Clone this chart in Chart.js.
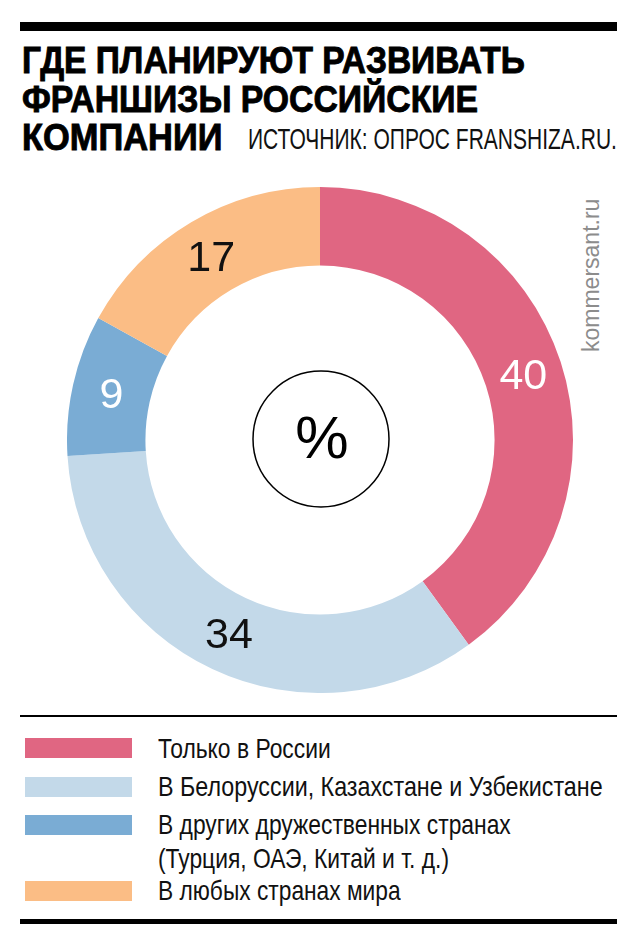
<!DOCTYPE html>
<html>
<head>
<meta charset="utf-8">
<script src="https://cdn.jsdelivr.net/npm/chart.js@4"></script>
<style>
body{margin:0;background:#fff;}
#page{position:relative;width:640px;height:946px;overflow:hidden;background:#fff;font-family:"Liberation Sans",Arial,sans-serif;color:#111;}
.txt{position:absolute;white-space:nowrap;display:inline-block;transform-origin:0 0;line-height:1;}
.title{font-size:37px;font-weight:bold;-webkit-text-stroke:0.9px #000;color:#000;}
.narrow{font-family:"Liberation Sans Narrow","Liberation Sans",sans-serif;}
.rule{position:absolute;left:20px;width:597px;background:#000;}
.sw{position:absolute;left:25px;width:107px;height:20px;}
#chartBox{position:absolute;left:67px;top:187px;width:506px;height:506px;}
#wm{position:absolute;left:580px;top:352px;font-size:23px;color:#8c8c8c;transform-origin:0 0;transform:rotate(-90deg);white-space:nowrap;line-height:1;}
</style>
</head>
<body>
<div id="page">
  <div class="rule" style="top:22px;height:9px;"></div>
  <span class="txt title" id="t1" style="left:22px;top:42px;">ГДЕ ПЛАНИРУЮТ РАЗВИВАТЬ</span>
  <span class="txt title" id="t2" style="left:22px;top:81px;">ФРАНШИЗЫ РОССИЙСКИЕ</span>
  <span class="txt title" id="t3" style="left:22px;top:119px;">КОМПАНИИ</span>
  <span class="txt narrow" id="src" style="left:248px;top:124px;font-size:30px;">ИСТОЧНИК: ОПРОС FRANSHIZA.RU.</span>
  <div id="wm" class="narrow">kommersant.ru</div>
  <div id="chartBox"><canvas id="myChart" width="506" height="506"></canvas></div>
  <div class="rule" style="top:715px;height:2px;"></div>
  <div id="legend"></div>
  <div class="rule" style="top:919px;height:5px;"></div>
</div>
<script>
const categories = ['Только в России', 'В Белоруссии, Казахстане и Узбекистане', 'В других дружественных странах (Турция, ОАЭ, Китай и т. д.)', 'В любых странах мира'];
const legendLines = [['Только в России'], ['В Белоруссии, Казахстане и Узбекистане'], ['В других дружественных странах', '(Турция, ОАЭ, Китай и т. д.)'], ['В любых странах мира']];
const values = [40, 34, 9, 17];
const colors = ['#E06682', '#C3D9E9', '#7AACD4', '#FBBD85'];
const labelColors = ['#fff', '#111', '#fff', '#111'];

// fit a text line to the width it has in the reference
function fit(id, w){
    const el = document.getElementById(id);
    el.style.transform = 'scaleX(' + (w / el.offsetWidth) + ')';
}

function draw_legend(){
    const box = document.querySelector('#legend');
    const swTops = [738, 777, 815, 881];
    const textTops = [735, 773, 811, 845, 877];
    const widths = [173, 445, 353, 291, 243];
    let n = 0;
    legendLines.forEach((lines, i) => {
        const sw = document.createElement('div');
        sw.className = 'sw';
        sw.style.top = swTops[i] + 'px';
        sw.style.background = colors[i];
        box.appendChild(sw);
        lines.forEach(line => {
            const s = document.createElement('span');
            s.className = 'txt narrow';
            s.id = 'lg' + n;
            s.style.left = '158px';
            s.style.top = textTops[n] + 'px';
            s.style.fontSize = '28px';
            s.textContent = line;
            box.appendChild(s);
            fit(s.id, widths[n]);
            n++;
        });
    });
}

const sliceLabels = {
    id: 'sliceLabels',
    afterDraw(chart){
        const ctx = chart.ctx;
        const meta = chart.getDatasetMeta(0);
        ctx.save();
        ctx.font = '43px "Liberation Sans", Arial, sans-serif';
        ctx.textAlign = 'center';
        ctx.textBaseline = 'middle';
        meta.data.forEach((arc, i) => {
            const p = arc.tooltipPosition();
            ctx.fillStyle = labelColors[i];
            ctx.fillText(values[i], p.x, p.y + 3);
        });
        const c = meta.data[0];
        ctx.beginPath();
        ctx.arc(c.x + 1, c.y - 1, 68, 0, Math.PI * 2);
        ctx.lineWidth = 1.5;
        ctx.strokeStyle = '#000';
        ctx.stroke();
        ctx.fillStyle = '#000';
        ctx.font = '60px "Liberation Sans Narrow", "Liberation Sans", sans-serif';
        ctx.fillText('%', c.x + 2, c.y + 1);
        ctx.restore();
    }
};

function draw_chart(){
    const ctx = document.querySelector('#myChart');
    new Chart(ctx, {
        type: 'doughnut',
        data: {
            labels: categories,
            datasets: [{
                data: values,
                backgroundColor: colors,
                borderWidth: 0,
                hoverOffset: 0
            }]
        },
        options: {
            responsive: false,
            animation: false,
            cutout: '69%',
            layout: { padding: 0 },
            plugins: {
                legend: { display: false },
                tooltip: { enabled: false }
            }
        },
        plugins: [sliceLabels]
    });
}

fit('t1', 503);
fit('t2', 456);
fit('t3', 200);
fit('src', 369);
draw_legend();
draw_chart();
</script>
</body>
</html>
